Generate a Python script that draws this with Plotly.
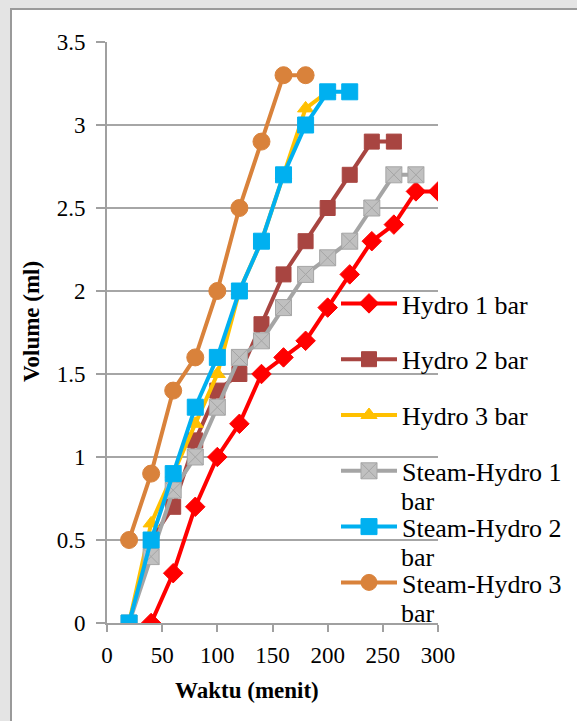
import plotly.graph_objects as go

# ---- data ----
x_h1 = [40, 60, 80, 100, 120, 140, 160, 180, 200, 220, 240, 260, 280, 300]
y_h1 = [0, 0.3, 0.7, 1.0, 1.2, 1.5, 1.6, 1.7, 1.9, 2.1, 2.3, 2.4, 2.6, 2.6]

x_h2 = [20, 40, 60, 80, 100, 120, 140, 160, 180, 200, 220, 240, 260]
y_h2 = [0, 0.5, 0.7, 1.1, 1.4, 1.5, 1.8, 2.1, 2.3, 2.5, 2.7, 2.9, 2.9]

x_h3 = [20, 40, 60, 80, 100, 120, 140, 160, 180, 200]
y_h3 = [0, 0.6, 0.9, 1.2, 1.5, 2.0, 2.3, 2.7, 3.1, 3.2]

x_s1 = [20, 40, 60, 80, 100, 120, 140, 160, 180, 200, 220, 240, 260, 280]
y_s1 = [0, 0.4, 0.8, 1.0, 1.3, 1.6, 1.7, 1.9, 2.1, 2.2, 2.3, 2.5, 2.7, 2.7]

x_s2 = [20, 40, 60, 80, 100, 120, 140, 160, 180, 200, 220]
y_s2 = [0, 0.5, 0.9, 1.3, 1.6, 2.0, 2.3, 2.7, 3.0, 3.2, 3.2]

x_s3 = [20, 40, 60, 80, 100, 120, 140, 160, 180]
y_s3 = [0.5, 0.9, 1.4, 1.6, 2.0, 2.5, 2.9, 3.3, 3.3]

names = ["Hydro 1 bar", "Hydro 2 bar", "Hydro 3 bar",
         "Steam-Hydro 1", "Steam-Hydro 2", "Steam-Hydro 3"]
x_ticks = [0, 50, 100, 150, 200, 250, 300]
y_ticks = [0, 0.5, 1, 1.5, 2, 2.5, 3, 3.5]
y_tick_text = ["0", "0.5", "1", "1.5", "2", "2.5", "3", "3.5"]

FONT = "Liberation Serif"
W, H = 577, 721
ML, MR, MT, MB = 107, 139, 42, 98
PW, PH = W - ML - MR, H - MT - MB


def px_x(p):
    return (p - ML) / PW


def px_y(p):
    return (H - MB - p) / PH


fig = go.Figure()

styles = [
    dict(x=x_h1, y=y_h1, color="#ff0000", symbol="diamond", size=15, mfill="#ff0000", mline="#ff0000"),
    dict(x=x_h2, y=y_h2, color="#a84541", symbol="square", size=15, mfill="#a84541", mline="#a84541"),
    dict(x=x_h3, y=y_h3, color="#ffc000", symbol="triangle-up", size=14, mfill="#ffc000", mline="#ffc000"),
    dict(x=x_s1, y=y_s1, color="#a5a5a5", symbol="square-x", size=16, mfill="#c0c0c0", mline="#a5a5a5"),
    dict(x=x_s2, y=y_s2, color="#00b0f0", symbol="square", size=16, mfill="#00b0f0", mline="#00b0f0"),
    dict(x=x_s3, y=y_s3, color="#d9823b", symbol="circle", size=17, mfill="#d9823b", mline="#d9823b"),
]

for i, (nm, s) in enumerate(zip(names, styles)):
    fig.add_trace(go.Scatter(
        x=s["x"], y=s["y"], name=nm, mode="lines+markers",
        legendgroup=f"g{i}",
        line=dict(color=s["color"], width=4),
        marker=dict(symbol=s["symbol"], size=s["size"], color=s["mfill"],
                    line=dict(color=s["mline"], width=1)),
    ))

# second line of the wrapped legend labels
for k in range(3):
    fig.add_annotation(
        xref="paper", yref="paper",
        x=px_x(399), y=px_y(501 + 56 * k),
        xanchor="left", yanchor="middle",
        text="bar", showarrow=False,
        font=dict(family=FONT, size=26, color="black"),
    )

# axis titles
fig.add_annotation(xref="paper", yref="paper", x=px_x(247), y=px_y(690),
                   xanchor="center", yanchor="middle", showarrow=False,
                   text="<b>Waktu (menit)</b>",
                   font=dict(family=FONT, size=23, color="black"))
fig.add_annotation(xref="paper", yref="paper", x=px_x(31), y=px_y(322),
                   xanchor="center", yanchor="middle", showarrow=False,
                   textangle=-90, text="<b>Volume (ml)</b>",
                   font=dict(family=FONT, size=23, color="black"))

# chart frame (white area with grey border on light-grey page)
fig.add_shape(type="rect", xref="paper", yref="paper", layer="below",
              x0=px_x(11), x1=px_x(600), y0=px_y(740), y1=px_y(9),
              fillcolor="white", line=dict(color="#9a9a9a", width=2))

fig.update_layout(
    width=W, height=H,
    margin=dict(l=ML, r=MR, t=MT, b=MB, autoexpand=False),
    paper_bgcolor="#e4e4e4", plot_bgcolor="white",
    font=dict(family=FONT, size=23, color="black"),
    showlegend=True,
    legend=dict(
        x=px_x(336), y=px_y(280), xanchor="left", yanchor="top",
        bgcolor="rgba(0,0,0,0)", borderwidth=0,
        font=dict(family=FONT, size=26, color="black"),
        itemwidth=56, tracegroupgap=19, valign="middle",
    ),
    xaxis=dict(
        range=[0, 300], tickmode="array", tickvals=x_ticks,
        showgrid=False, zeroline=False,
        showline=True, linecolor="#a0a0a0", linewidth=2,
        ticks="outside", ticklen=7, tickwidth=2, tickcolor="#a0a0a0",
        tickfont=dict(family=FONT, size=23, color="black"),
        ticklabelstandoff=3,
    ),
    yaxis=dict(
        range=[0, 3.5], tickmode="array", tickvals=y_ticks, ticktext=y_tick_text,
        showgrid=True, gridcolor="#a6a6a6", gridwidth=2, zeroline=False,
        showline=True, linecolor="#a0a0a0", linewidth=2,
        ticks="outside", ticklen=9, tickwidth=2, tickcolor="#a0a0a0",
        tickfont=dict(family=FONT, size=23, color="black"),
        ticklabelstandoff=6,
    ),
)

fig.write_html("out.html")
